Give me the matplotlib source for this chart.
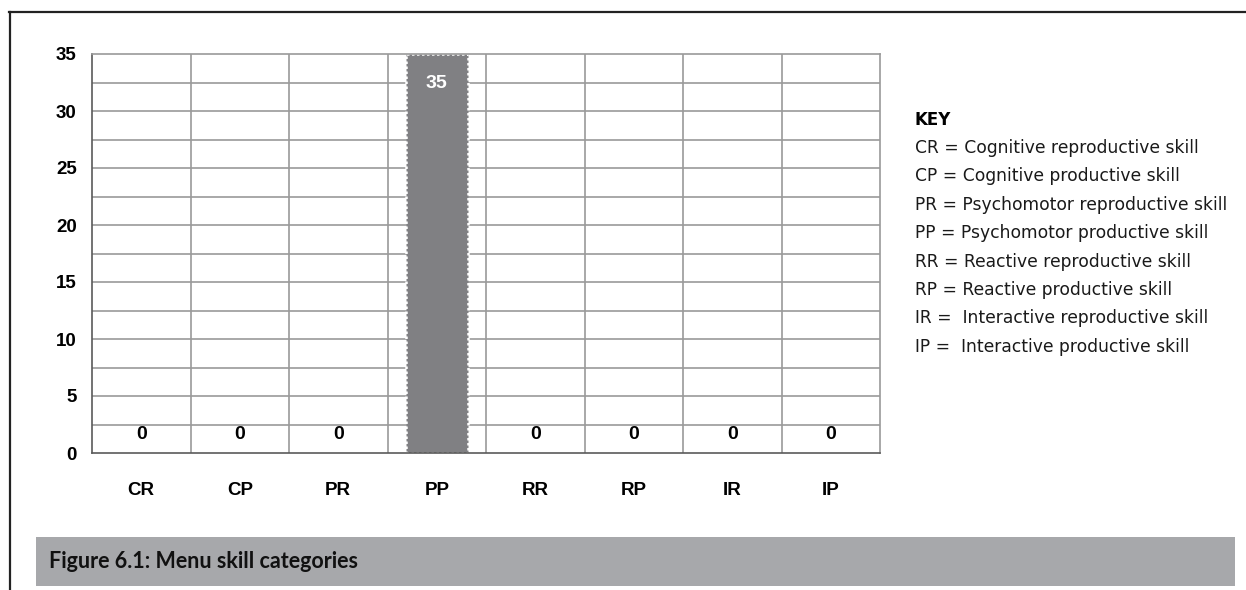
import matplotlib.pyplot as plt
from matplotlib.lines import Line2D
from matplotlib.patches import Rectangle

categories = ["CR", "CP", "PR", "PP", "RR", "RP", "IR", "IP"]
counts = [0, 0, 0, 35, 0, 0, 0, 0]
key_lines = [
    "CR = Cognitive reproductive skill",
    "CP = Cognitive productive skill",
    "PR = Psychomotor reproductive skill",
    "PP = Psychomotor productive skill",
    "RR = Reactive reproductive skill",
    "RP = Reactive productive skill",
    "IR =  Interactive reproductive skill",
    "IP =  Interactive productive skill",
]
caption = "Figure 6.1: Menu skill categories"

W, H = 1246, 590
fig = plt.figure(figsize=(W / 100, H / 100), dpi=100)
ax = fig.add_axes([92 / W, 1 - 453 / H, (880 - 92) / W, (453 - 54) / H])

x = range(len(categories))

# grid: horizontal every 2.5, vertical between categories
for v in [2.5 * i for i in range(1, 14)]:
    ax.axhline(v, color="#9a9a9a", lw=1.2, zorder=1)
for b in range(1, len(categories)):
    ax.axvline(b - 0.5, color="#9a9a9a", lw=1.2, zorder=1)

bars = ax.bar(x, counts, width=0.63, color="#808083", edgecolor="white",
              linestyle=(0, (1, 1)), linewidth=1.8, zorder=2)

for xi, val in zip(x, counts):
    if val > 0:
        ax.annotate(f"{val}", (xi, val), xytext=(0, -21), textcoords="offset points",
                    ha="center", va="center", color="white", fontsize=14,
                    fontweight="bold", family="Liberation Sans", zorder=3)
    else:
        ax.annotate(f"{val}", (xi, val), xytext=(0, 13), textcoords="offset points",
                    ha="center", va="center", color="black", fontsize=14,
                    fontweight="bold", family="Liberation Sans", zorder=3)

ax.set_xlim(-0.5, len(categories) - 0.5)
ax.set_ylim(0, 35)
ax.set_yticks(range(0, 36, 5))
ax.set_xticks(list(x))
ax.set_xticklabels(categories)
ax.tick_params(axis="both", length=0, labelsize=13.5)
ax.tick_params(axis="x", pad=21)
ax.tick_params(axis="y", pad=11)
for lab in ax.get_xticklabels() + ax.get_yticklabels():
    lab.set_fontweight("bold")
    lab.set_family("Liberation Sans")

ax.spines["left"].set_color("#5a5a5a")
ax.spines["bottom"].set_color("#5a5a5a")
ax.spines["top"].set_color("#9a9a9a")
ax.spines["right"].set_color("#9a9a9a")
for s in ax.spines.values():
    s.set_linewidth(1.2)

# key on the right
fig.text(915 / W, 1 - 120 / H, "KEY", fontsize=12, fontweight="bold",
         family="DejaVu Sans", va="center", ha="left")
for i, line in enumerate(key_lines):
    fig.text(915 / W, 1 - (148 + i * 28.4) / H, line, fontsize=12.3,
             family="DejaVu Sans", va="center", ha="left", color="#1a1a1a")

# frame lines along top and left
fig.add_artist(Line2D([9 / W, 1], [1 - 12 / H, 1 - 12 / H], color="#222222", lw=1.6))
fig.add_artist(Line2D([9.5 / W, 9.5 / W], [0, 1 - 12 / H], color="#222222", lw=1.6))

# caption band
fig.add_artist(Rectangle((36 / W, 1 - 586 / H), 1199 / W, 49 / H,
                         transform=fig.transFigure, color="#a7a8ab", lw=0))
fig.text(49 / W, 1 - 561 / H, caption, fontsize=15.5, fontweight="bold",
         family="Lato", va="center", ha="left", color="#111111")

fig.savefig("out.png", dpi=100)
